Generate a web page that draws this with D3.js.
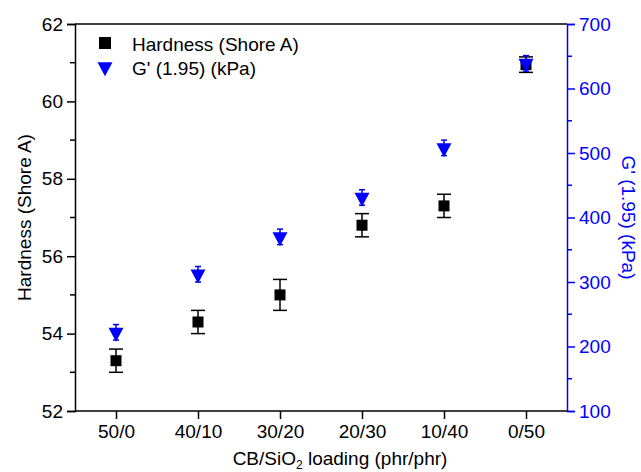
<!DOCTYPE html>
<html>
<head>
<meta charset="utf-8">
<script src="https://cdn.jsdelivr.net/npm/d3@7"></script>
<style>
  html, body { margin: 0; padding: 0; background: #fff; }
  svg { display: block; }
  text { font-family: "Liberation Sans", Arial, sans-serif; }
</style>
</head>
<body>
<svg id="chart" width="641" height="472"></svg>
<script>
// ---- data ----
const categories = ["50/0", "40/10", "30/20", "20/30", "10/40", "0/50"];
const hardness = [53.3, 54.3, 55.0, 56.8, 57.3, 60.95];
const hardnessErr = [0.3, 0.3, 0.4, 0.3, 0.3, 0.2];
const gModulus = [222, 312, 370, 431, 508, 639];
const gModulusErr = [12, 12, 12, 12, 12, 12];
const leftTicks = [52, 54, 56, 58, 60, 62];
const leftMinor = [53, 55, 57, 59, 61];
const rightTicks = [100, 200, 300, 400, 500, 600, 700];
const rightMinor = [150, 250, 350, 450, 550, 650];
const seriesNames = ["Hardness (Shore A)", "G' (1.95) (kPa)"];

// ---- layout ----
const L = 75, R = 567, T = 24, B = 411;
const blue = "#0000ff";
const fs = 19;
const svg = d3.select("#chart");

const x = d3.scalePoint().domain(categories).range([L, R]).padding(0.5);
const yL = d3.scaleLinear().domain([52, 62]).range([B, T]);
const yR = d3.scaleLinear().domain([100, 700]).range([B, T]);

// top border
svg.append("line").attr("x1", L).attr("x2", R).attr("y1", T).attr("y2", T)
  .attr("stroke", "#000").attr("stroke-width", 1.5);

// left axis
const gl = svg.append("g").attr("transform", `translate(${L},0)`);
gl.call(d3.axisLeft(yL).tickValues(leftTicks).tickSize(8).tickPadding(4).tickFormat(d3.format("d")));
gl.append("g").selectAll("line").data(leftMinor).join("line")
  .attr("x1", 0).attr("x2", -5).attr("y1", d => yL(d)).attr("y2", d => yL(d))
  .attr("stroke", "#000").attr("stroke-width", 1.5);

// bottom axis
const gb = svg.append("g").attr("transform", `translate(0,${B})`);
gb.call(d3.axisBottom(x).tickSize(8).tickPadding(6));
gb.select(".domain").attr("d", `M${L},0H${R}`);

// right axis
const gr = svg.append("g").attr("transform", `translate(${R},0)`);
gr.call(d3.axisRight(yR).tickValues(rightTicks).tickSize(8).tickPadding(4).tickFormat(d3.format("d")));
gr.append("g").selectAll("line").data(rightMinor).join("line")
  .attr("x1", 0).attr("x2", 5).attr("y1", d => yR(d)).attr("y2", d => yR(d))
  .attr("stroke", blue).attr("stroke-width", 1.5);

[gl, gb, gr].forEach(g => {
  g.attr("font-size", fs).attr("font-family", "Liberation Sans, Arial, sans-serif");
  g.selectAll(".domain, .tick line").attr("stroke-width", 1.5);
});
gr.selectAll(".domain, .tick line").attr("stroke", blue);
gr.selectAll(".tick text").attr("fill", blue);

// axis titles
svg.append("text")
  .attr("transform", `translate(31,${(T + B) / 2}) rotate(-90)`)
  .attr("text-anchor", "middle").attr("font-size", fs).attr("fill", "#000")
  .text("Hardness (Shore A)");

svg.append("text")
  .attr("transform", `translate(622,${(T + B) / 2}) rotate(90)`)
  .attr("text-anchor", "middle").attr("font-size", fs).attr("fill", blue)
  .text("G' (1.95) (kPa)");

const xt = svg.append("text")
  .attr("x", 340).attr("y", 465)
  .attr("text-anchor", "middle").attr("font-size", fs).attr("fill", "#000");
xt.append("tspan").text("CB/SiO");
xt.append("tspan").attr("font-size", 12).attr("dy", 4).text("2");
xt.append("tspan").attr("dy", -4).text(" loading (phr/phr)");

// symbols
const sqSize = 11;
const triW = 15, triH = 14;
// down-pointing triangle positioned by its centroid
function triPath(cx, cy) {
  const top = cy - triH / 3, tip = cy + 2 * triH / 3;
  return `M${cx - triW / 2},${top}L${cx + triW / 2},${top}L${cx},${tip}Z`;
}

// hardness error bars
const hd = categories.map((c, i) => ({ c, v: hardness[i], e: hardnessErr[i] }));
const eg = svg.append("g").attr("stroke", "#000").attr("stroke-width", 1.5);
hd.forEach(d => {
  const cx = x(d.c);
  eg.append("line").attr("x1", cx).attr("x2", cx).attr("y1", yL(d.v - d.e)).attr("y2", yL(d.v + d.e));
  eg.append("line").attr("x1", cx - 7).attr("x2", cx + 7).attr("y1", yL(d.v - d.e)).attr("y2", yL(d.v - d.e));
  eg.append("line").attr("x1", cx - 7).attr("x2", cx + 7).attr("y1", yL(d.v + d.e)).attr("y2", yL(d.v + d.e));
});
svg.append("g").selectAll("rect").data(hd).join("rect")
  .attr("x", d => x(d.c) - sqSize / 2).attr("y", d => yL(d.v) - sqSize / 2)
  .attr("width", sqSize).attr("height", sqSize).attr("fill", "#000");

// G' error bars and triangles
const gd = categories.map((c, i) => ({ c, v: gModulus[i], e: gModulusErr[i] }));
const eb = svg.append("g").attr("stroke", blue).attr("stroke-width", 1.5);
gd.forEach(d => {
  const cx = x(d.c);
  eb.append("line").attr("x1", cx).attr("x2", cx).attr("y1", yR(d.v - d.e)).attr("y2", yR(d.v + d.e));
  eb.append("line").attr("x1", cx - 3).attr("x2", cx + 3).attr("y1", yR(d.v - d.e)).attr("y2", yR(d.v - d.e));
  eb.append("line").attr("x1", cx - 3).attr("x2", cx + 3).attr("y1", yR(d.v + d.e)).attr("y2", yR(d.v + d.e));
});
svg.append("g").selectAll("path").data(gd).join("path")
  .attr("d", d => triPath(x(d.c), yR(d.v))).attr("fill", blue);

// legend
svg.append("rect").attr("x", 105 - 6).attr("y", 43 - 6).attr("width", 12).attr("height", 12).attr("fill", "#000");
svg.append("path").attr("d", triPath(105, 67)).attr("fill", blue);
svg.append("text").attr("x", 132).attr("y", 50.5).attr("font-size", fs).text(seriesNames[0]);
svg.append("text").attr("x", 132).attr("y", 75).attr("font-size", fs).text(seriesNames[1]);
</script>
</body>
</html>
